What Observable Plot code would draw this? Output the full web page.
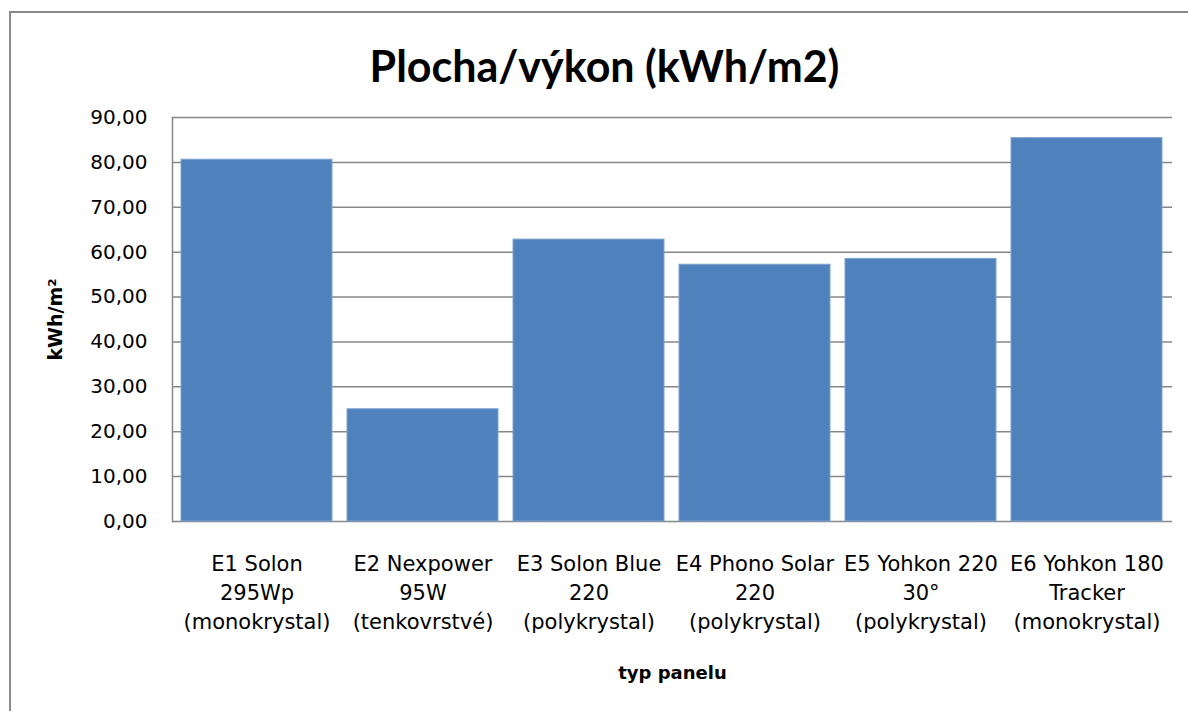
<!DOCTYPE html>
<html>
<head>
<meta charset="utf-8">
<script src="https://cdn.jsdelivr.net/npm/d3@7"></script>
<script src="https://cdn.jsdelivr.net/npm/@observablehq/plot@0.6"></script>
<style>
  html, body { margin: 0; padding: 0; background: #fff; }
  #wrap { position: relative; width: 1188px; height: 711px; overflow: hidden; background: #fff; }
  #border { position: absolute; left: 9px; top: 11px; right: -10px; bottom: -10px;
            border-top: 2px solid #8a8a8a; border-left: 2px solid #8a8a8a; pointer-events: none; }
  #chart { position: absolute; left: 0; top: 0; }
</style>
</head>
<body>
<div id="wrap"><div id="chart"></div><div id="border"></div></div>
<script>
const titleText = "Plocha/výkon (kWh/m2)";
const xTitle = "typ panelu";
const yTitle = "kWh/m²";
const panels = [
  "E1 Solon\n295Wp\n(monokrystal)",
  "E2 Nexpower\n95W\n(tenkovrstvé)",
  "E3 Solon Blue\n220\n(polykrystal)",
  "E4 Phono Solar\n220\n(polykrystal)",
  "E5 Yohkon 220\n30°\n(polykrystal)",
  "E6 Yohkon 180\nTracker\n(monokrystal)"
];
const values = [80.6, 25.0, 62.8, 57.2, 58.5, 85.4];
const yTicks = [0, 10, 20, 30, 40, 50, 60, 70, 80, 90];

const data = panels.map((p, i) => ({panel: p, value: values[i]}));
const fmt = d => d.toFixed(2).replace(".", ",");

const chart = Plot.plot({
  width: 1188,
  height: 711,
  marginLeft: 172,
  marginRight: 16,
  marginTop: 117,
  marginBottom: 190,
  style: {fontFamily: "DejaVu Sans", color: "#000", background: "transparent"},
  x: {domain: panels, paddingInner: 0.09, paddingOuter: 0.045},
  y: {domain: [0, 90]},
  marks: [
    Plot.gridY(yTicks, {stroke: "#878787", strokeOpacity: 1, strokeWidth: 1.5}),
    Plot.barY(data, {x: "panel", y: "value", fill: "#4F81BD", stroke: "#7EA3D0", strokeWidth: 1}),
    Plot.frame({anchor: "left", stroke: "#878787", strokeWidth: 1.5}),
    Plot.axisY({ticks: yTicks, tickFormat: fmt, tickSize: 0, tickPadding: 25, fontSize: 20, label: null}),
    Plot.axisX({tickSize: 0, tickPadding: 29, fontSize: 21, lineHeight: 1.38, label: null}),
    Plot.text([titleText], {frameAnchor: "top", dx: -68, dy: -66, fontSize: 43, fontWeight: "bold", fontFamily: "Lato"}),
    Plot.text([xTitle], {frameAnchor: "bottom", dy: 157, fontSize: 18, fontWeight: "bold"}),
    Plot.text([yTitle], {frameAnchor: "left", textAnchor: "middle", dx: -117, rotate: -90, fontSize: 19, fontWeight: "bold"})
  ]
});
document.getElementById("chart").appendChild(chart);
</script>
</body>
</html>
